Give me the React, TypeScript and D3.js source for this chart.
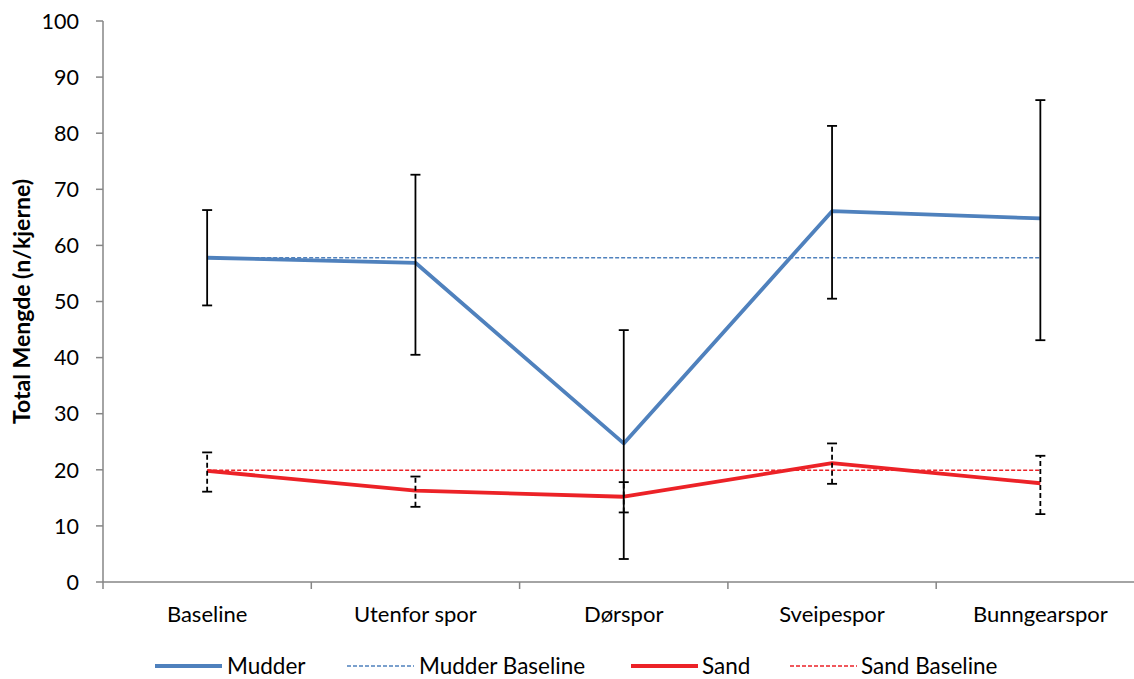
import React from 'react';
import * as d3 from 'd3';

const categories = ['Baseline', 'Utenfor spor', 'Dørspor', 'Sveipespor', 'Bunngearspor'];
const mudder = [57.8, 56.9, 24.7, 66.1, 64.8];
const mudderLow = [49.3, 40.5, 4.1, 50.5, 43.1];
const mudderHigh = [66.3, 72.6, 44.9, 81.3, 85.9];
const sand = [19.8, 16.3, 15.2, 21.2, 17.6];
const sandLow = [16.1, 13.4, 12.4, 17.5, 12.1];
const sandHigh = [23.1, 18.8, 17.8, 24.7, 22.5];
const mudderBaseline = 57.8;
const sandBaseline = 19.9;
const yTicks = [0, 10, 20, 30, 40, 50, 60, 70, 80, 90, 100];

const BLUE = '#4F81BD';
const RED = '#EC2227';
const AXIS = '#868686';
const FONT = 'Lato, "Open Sans", sans-serif';

const App: React.FC = () => {
  const W = 1134;
  const H = 679;
  const left = 103;
  const top = 21;
  const bottom = 582;
  const band = 208.3;

  const x = d3.scaleBand<string>()
    .domain(categories)
    .range([left, left + band * categories.length])
    .paddingInner(0)
    .paddingOuter(0);
  const cx = (c: string) => (x(c) ?? 0) + x.bandwidth() / 2;
  const y = d3.scaleLinear().domain([0, 100]).range([bottom, top]);

  const line = d3.line<number>()
    .x((_, i) => cx(categories[i]))
    .y(d => y(d));

  const x0 = cx(categories[0]);
  const x1 = cx(categories[categories.length - 1]);

  const errorBar = (i: number, lo: number, hi: number, dashed: boolean) => {
    const px = cx(categories[i]);
    return (
      <g key={`${dashed ? 's' : 'm'}${i}`} stroke="#000" strokeWidth={1.8}>
        <line x1={px} x2={px} y1={y(lo)} y2={y(hi)} strokeDasharray={dashed ? '5 3' : undefined} />
        <line x1={px - 5} x2={px + 5} y1={y(lo)} y2={y(lo)} />
        <line x1={px - 5} x2={px + 5} y1={y(hi)} y2={y(hi)} />
      </g>
    );
  };

  const legend = [
    { label: 'Mudder', color: BLUE, dash: undefined, width: 3.8, lx: 155, tx: 227 },
    { label: 'Mudder Baseline', color: BLUE, dash: '4 2', width: 1.5, lx: 347, tx: 419 },
    { label: 'Sand', color: RED, dash: undefined, width: 3.8, lx: 631, tx: 702 },
    { label: 'Sand Baseline', color: RED, dash: '4 2', width: 1.5, lx: 790, tx: 861 },
  ];

  return (
    <svg width={W} height={H} style={{ position: 'absolute', left: 0, top: 0, background: '#fff' }} fontFamily={FONT}>
      {/* y axis */}
      <line x1={left} x2={left} y1={top} y2={bottom} stroke={AXIS} strokeWidth={1.5} />
      {yTicks.map(t => (
        <g key={t}>
          <line x1={left - 7} x2={left} y1={y(t)} y2={y(t)} stroke={AXIS} strokeWidth={1.5} />
          <text x={left - 24} y={y(t)} dy="0.36em" textAnchor="end" fontSize={21.5} fill="#000">{t}</text>
        </g>
      ))}
      {/* x axis */}
      <line x1={left} x2={W} y1={bottom} y2={bottom} stroke={AXIS} strokeWidth={1.5} />
      {categories.map(c => (
        <line key={c} x1={x(c) ?? 0} x2={x(c) ?? 0} y1={bottom} y2={bottom + 7} stroke={AXIS} strokeWidth={1.5} />
      ))}
      {categories.map(c => (
        <text key={c} x={cx(c)} y={622} textAnchor="middle" fontSize={22} fill="#000">{c}</text>
      ))}
      <text transform={`translate(30,${(top + bottom) / 2}) rotate(-90)`} textAnchor="middle" fontSize={23} fontWeight="bold" fill="#000">
        Total Mengde  (n/kjerne)
      </text>

      {/* baselines */}
      <line x1={x0} x2={x1} y1={y(mudderBaseline)} y2={y(mudderBaseline)} stroke={BLUE} strokeWidth={1.5} strokeDasharray="4 2" />
      <line x1={x0} x2={x1} y1={y(sandBaseline)} y2={y(sandBaseline)} stroke={RED} strokeWidth={1.5} strokeDasharray="4 2" />

      {/* series */}
      <path d={line(mudder) ?? ''} fill="none" stroke={BLUE} strokeWidth={3.8} strokeLinejoin="round" />
      <path d={line(sand) ?? ''} fill="none" stroke={RED} strokeWidth={3.8} strokeLinejoin="round" />

      {/* error bars */}
      {mudder.map((_, i) => errorBar(i, mudderLow[i], mudderHigh[i], false))}
      {sand.map((_, i) => errorBar(i, sandLow[i], sandHigh[i], true))}

      {/* legend */}
      {legend.map(l => (
        <g key={l.label}>
          <line x1={l.lx} x2={l.lx + 67} y1={666} y2={666} stroke={l.color} strokeWidth={l.width} strokeDasharray={l.dash} />
          <text x={l.tx} y={666} dy="0.36em" fontSize={22.5} fill="#000">{l.label}</text>
        </g>
      ))}
    </svg>
  );
};

export default App;
